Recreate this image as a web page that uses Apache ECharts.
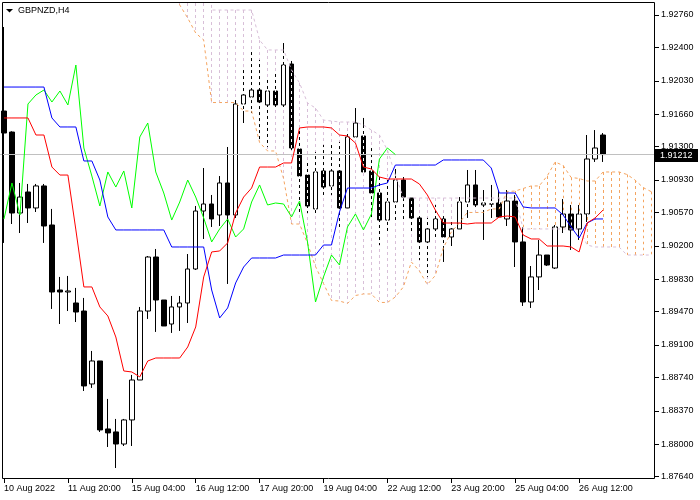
<!DOCTYPE html>
<html><head><meta charset="utf-8">
<script src="https://cdn.jsdelivr.net/npm/echarts@6/dist/echarts.min.js"></script>
<style>html,body{margin:0;padding:0;background:#fff}#c{width:700px;height:500px}</style>
</head><body><div id="c"></div>
<script>
// ---- data (GBPNZD H4) ----
const tickBars   = [0, 8, 16, 24, 32, 40, 48, 56, 64, 72];
const tickLabels = ['10 Aug 2022','11 Aug 20:00','15 Aug 04:00','16 Aug 12:00','17 Aug 20:00','19 Aug 04:00','22 Aug 12:00','23 Aug 20:00','25 Aug 04:00','26 Aug 12:00'];
const priceTicks = [1.87640,1.88000,1.88370,1.88740,1.89100,1.89470,1.89830,1.90200,1.90570,1.90930,1.91300,1.91660,1.92030,1.92400,1.92760];
const yMin = 1.87614, yMax = 1.92893;
const barSlots = 82;

const opens  = [1.91695,1.91462,1.90564,1.90797,1.90620,1.90864,1.90431,1.89710,1.89688,1.89566,1.89477,1.88668,1.88923,1.88169,1.88136,1.88002,1.88269,1.88712,1.89477,1.90076,1.89599,1.89333,1.89522,1.89566,1.89943,1.90586,1.90664,1.90542,1.90897,1.90542,1.91773,1.91850,1.91928,1.91762,1.91917,1.91762,1.92216,1.91274,1.90985,1.90609,1.91030,1.90864,1.91030,1.90620,1.91407,1.91418,1.91030,1.90786,1.90486,1.90686,1.90930,1.90730,1.90509,1.90243,1.90387,1.90498,1.90298,1.90387,1.90686,1.90875,1.90653,1.90664,1.90675,1.90498,1.90697,1.90243,1.89577,1.89855,1.90098,1.89954,1.90409,1.90553,1.90387,1.90553,1.91163,1.91429];
const closes = [1.91451,1.90564,1.90741,1.90620,1.90864,1.90420,1.89688,1.89688,1.89699,1.89466,1.88646,1.88923,1.88158,1.88125,1.88002,1.88269,1.88712,1.89477,1.90076,1.89599,1.89311,1.89522,1.89566,1.89943,1.90586,1.90664,1.90498,1.90897,1.90542,1.91773,1.91873,1.91928,1.91795,1.91917,1.91762,1.92205,1.91285,1.90974,1.90642,1.91019,1.90852,1.91030,1.90620,1.91407,1.91562,1.91019,1.90786,1.90486,1.90686,1.90930,1.90741,1.90509,1.90243,1.90387,1.90498,1.90298,1.90387,1.90686,1.90875,1.90653,1.90675,1.90664,1.90520,1.90697,1.90243,1.89577,1.89855,1.90098,1.89987,1.90409,1.90553,1.90376,1.90553,1.91163,1.91285,1.91212];
const lows   = [1.90232,1.90442,1.90342,1.90453,1.90575,1.90232,1.89500,1.89333,1.89477,1.89355,1.88590,1.88624,1.88136,1.87969,1.87736,1.87980,1.87980,1.88712,1.89389,1.89245,1.89311,1.89234,1.89256,1.89344,1.89932,1.90276,1.90409,1.90420,1.89777,1.90509,1.91562,1.91673,1.91374,1.91296,1.91706,1.91728,1.91263,1.90575,1.90564,1.90564,1.90764,1.90764,1.90409,1.90620,1.91396,1.91008,1.90486,1.90209,1.90342,1.90486,1.90486,1.90342,1.90043,1.89855,1.90298,1.90021,1.90198,1.90387,1.90509,1.90620,1.90265,1.90509,1.90520,1.90420,1.89965,1.89533,1.89511,1.89710,1.89976,1.89943,1.90342,1.90154,1.90265,1.90464,1.91130,1.91130];
const highs  = [1.92627,1.91470,1.90897,1.90886,1.90886,1.90886,1.90609,1.89855,1.89866,1.89733,1.89622,1.89034,1.88923,1.88502,1.88280,1.88280,1.88768,1.89522,1.90087,1.90165,1.89599,1.89644,1.89644,1.90109,1.90642,1.91063,1.90764,1.90974,1.91296,1.91817,1.92183,1.92383,1.92261,1.92072,1.92117,1.92449,1.92250,1.91507,1.91152,1.91240,1.91318,1.91318,1.91351,1.91462,1.91728,1.91618,1.91285,1.90963,1.90930,1.91052,1.90963,1.90730,1.90564,1.90509,1.90653,1.90542,1.90486,1.90741,1.91041,1.91041,1.90819,1.90875,1.90819,1.90819,1.90764,1.90409,1.89976,1.90265,1.90098,1.90431,1.90719,1.90653,1.90653,1.91429,1.91484,1.91451];

const tenkan = [1.91618,1.91618,1.91618,1.91618,1.91429,1.91429,1.91074,1.90985,1.90985,1.90376,1.89744,1.89744,1.89522,1.89422,1.89189,1.88812,1.88801,1.88746,1.88923,1.88956,1.88956,1.88956,1.88956,1.89078,1.89300,1.89855,1.90132,1.90143,1.90232,1.90564,1.90741,1.90841,1.91074,1.91074,1.91074,1.91119,1.91119,1.91507,1.91518,1.91518,1.91518,1.91507,1.91429,1.91418,1.91340,1.91074,1.91052,1.90963,1.90941,1.90941,1.90941,1.90941,1.90886,1.90764,1.90597,1.90453,1.90453,1.90453,1.90442,1.90453,1.90453,1.90453,1.90520,1.90531,1.90520,1.90320,1.90276,1.90276,1.90198,1.90198,1.90198,1.90187,1.90132,1.90453,1.90509,1.90597];
const kijun  = [1.91961,1.91961,1.91961,1.91961,1.91961,1.91961,1.91618,1.91518,1.91518,1.91518,1.91141,1.91141,1.90930,1.90520,1.90376,1.90376,1.90376,1.90376,1.90376,1.90376,1.90376,1.90187,1.90187,1.90187,1.90187,1.90187,1.89710,1.89400,1.89511,1.89788,1.89965,1.90065,1.90065,1.90065,1.90065,1.90098,1.90098,1.90098,1.90098,1.90098,1.90209,1.90209,1.90575,1.90841,1.90841,1.90841,1.90841,1.90875,1.90897,1.91096,1.91096,1.91096,1.91096,1.91096,1.91096,1.91152,1.91152,1.91152,1.91152,1.91152,1.91152,1.91063,1.90786,1.90786,1.90786,1.90631,1.90620,1.90620,1.90620,1.90620,1.90542,1.90409,1.90287,1.90453,1.90498,1.90498];
// Senkou spans, bars 0..81 (null = not on screen)
const senkouA = [null,null,null,null,null,null,null,null,null,null,null,null,null,null,null,null,null,null,null,null,null,1.93059,1.92871,1.92726,1.92560,1.92482,1.91789,1.91789,1.91789,1.91789,1.91695,1.91695,1.91346,1.91252,1.91252,1.90947,1.90442,1.90442,1.90226,1.89971,1.89782,1.89594,1.89588,1.89561,1.89649,1.89666,1.89666,1.89572,1.89572,1.89633,1.89744,1.90021,1.89921,1.89771,1.89871,1.90176,1.90353,1.90453,1.90570,1.90570,1.90570,1.90609,1.90609,1.90802,1.90808,1.90836,1.90864,1.90864,1.90974,1.91130,1.91091,1.90958,1.90947,1.90919,1.90919,1.91019,1.91019,1.91019,1.90991,1.90930,1.90847,1.90802];
const senkouB = [null,null,null,null,null,null,null,null,null,null,null,null,null,null,null,null,null,null,null,null,null,null,1.95000,1.95000,1.95000,1.95000,1.92815,1.92815,1.92815,1.92815,1.92815,1.92815,1.92482,1.92372,1.92372,1.92372,1.92150,1.92006,1.91784,1.91728,1.91595,1.91584,1.91573,1.91573,1.91573,1.91540,1.91484,1.91429,1.91263,1.90985,1.90730,1.90730,1.90730,1.90730,1.90730,1.90730,1.90730,1.90730,1.90730,1.90730,1.90730,1.90730,1.90730,1.90730,1.90730,1.90387,1.90387,1.90387,1.90387,1.90387,1.90387,1.90387,1.90387,1.90209,1.90187,1.90187,1.90187,1.90187,1.90098,1.90098,1.90098,1.90098];
const chikouShift = 26;
const symbolText = 'GBPNZD,H4';

// ---- build ----
const cats = Array.from({length: barSlots}, (_, i) => String(i));
const candles = opens.map((o, i) => [o, closes[i], lows[i], highs[i]]);
const chikou = closes.slice(chikouShift);
const cloud = [];
for (let i = 0; i < barSlots; i++) {
  if (senkouA[i] != null && senkouB[i] != null) cloud.push([i, senkouA[i], senkouB[i]]);
}
const lastClose = closes[closes.length - 1];
const FONT = 'Liberation Sans';
const isTick = (i) => tickBars.indexOf(i) >= 0;

function hatch(white) {
  return function (params, api) {
    const i = api.value(0), a = api.value(1), b = api.value(2);
    const cs = params.coordSys;
    const pa = api.coord([i, a]), pb = api.coord([i, b]);
    let y1 = Math.min(pa[1], pb[1]), y2 = Math.max(pa[1], pb[1]);
    y1 = Math.max(y1, cs.y); y2 = Math.min(y2, cs.y + cs.height);
    if (y2 <= y1) return null;
    const x = Math.round(pa[0] - 0.5) + 0.5;
    const col = a > b ? '#F4A460' : '#D8BFD8';
    return {
      type: 'line',
      shape: { x1: x, y1: y1, x2: x, y2: y2 },
      style: white ? { stroke: '#ffffff', lineWidth: 1, lineDash: [3, 3], lineDashOffset: 3 }
                   : { stroke: col, lineWidth: 1, lineDash: [3, 3] }
    };
  };
}

const chart = echarts.init(document.getElementById('c'), null, { renderer: 'canvas' });
chart.setOption({
  animation: false,
  backgroundColor: '#ffffff',
  grid: { left: -1, right: 45, top: 3, bottom: 21, show: false },
  xAxis: {
    type: 'category', data: cats, boundaryGap: true,
    axisLine: { show: false },
    axisTick: { show: true, interval: (i) => isTick(i), alignWithLabel: true, length: 4, lineStyle: { color: '#000' } },
    axisLabel: {
      interval: (i) => isTick(i),
      formatter: (v, i) => { const k = tickBars.indexOf(Number(v)); return k >= 0 ? tickLabels[k] : ''; },
      align: 'left', margin: 5, fontSize: 9, fontFamily: FONT, color: '#000'
    },
    splitLine: { show: false }
  },
  yAxis: {
    type: 'value', position: 'right', min: yMin, max: yMax, scale: true,
    splitLine: { show: false }, axisLine: { show: false },
    axisTick: { show: true, length: 4, customValues: priceTicks, lineStyle: { color: '#000' } },
    axisLabel: { customValues: priceTicks, formatter: (v) => v.toFixed(5), margin: 6, fontSize: 9, fontFamily: FONT, color: '#000' }
  },
  series: [
    { type: 'custom', name: 'cloud', data: cloud, renderItem: hatch(false), z: 1, silent: true },
    {
      type: 'candlestick', name: 'GBPNZD', data: candles, barWidth: 5, z: 2,
      itemStyle: { color: '#ffffff', color0: '#000000', borderColor: '#000000', borderColor0: '#000000', borderWidth: 1 },
      markLine: {
        silent: true, symbol: ['none', 'none'], label: { show: false }, precision: 5,
        lineStyle: { color: '#C0C0C0', type: 'solid', width: 1 },
        data: [{ yAxis: lastClose }]
      }
    },
    { type: 'custom', name: 'cloudGap', data: cloud, renderItem: hatch(true), z: 3, silent: true },
    { type: 'line', name: 'Senkou A', data: senkouA, showSymbol: false, z: 4, lineStyle: { color: '#F4A460', width: 1, type: [3, 3] } },
    { type: 'line', name: 'Senkou B', data: senkouB, showSymbol: false, z: 4, lineStyle: { color: '#D8BFD8', width: 1, type: [3, 3] } },
    { type: 'line', name: 'Chikou', data: chikou, showSymbol: false, z: 5, lineStyle: { color: '#00FF00', width: 1 } },
    { type: 'line', name: 'Kijun', data: kijun, showSymbol: false, z: 5, lineStyle: { color: '#0000FF', width: 1 } },
    { type: 'line', name: 'Tenkan', data: tenkan, showSymbol: false, z: 5, lineStyle: { color: '#FF0000', width: 1 } }
  ]
});

const py = chart.convertToPixel({ yAxisIndex: 0 }, lastClose);
chart.setOption({
  graphic: [
    { type: 'rect', shape: { x: 2.5, y: 2.5, width: 652, height: 476 }, style: { fill: 'none', stroke: '#000', lineWidth: 1 }, z: 100, silent: true },
    { type: 'polygon', shape: { points: [[6, 9], [13, 9], [9.5, 12.5]] }, style: { fill: '#000' }, z: 100 },
    { type: 'text', x: 18, y: 11, style: { text: symbolText, font: '9px "' + FONT + '"', fill: '#000', textVerticalAlign: 'middle' }, z: 100 },
    { type: 'rect', shape: { x: 655, y: Math.round(py) - 6, width: 43, height: 13 }, style: { fill: '#000' }, z: 100 },
    { type: 'text', x: 660, y: Math.round(py) + 0.5, style: { text: lastClose.toFixed(5), font: '9px "' + FONT + '"', fill: '#fff', textVerticalAlign: 'middle' }, z: 101 }
  ]
});
</script></body></html>
